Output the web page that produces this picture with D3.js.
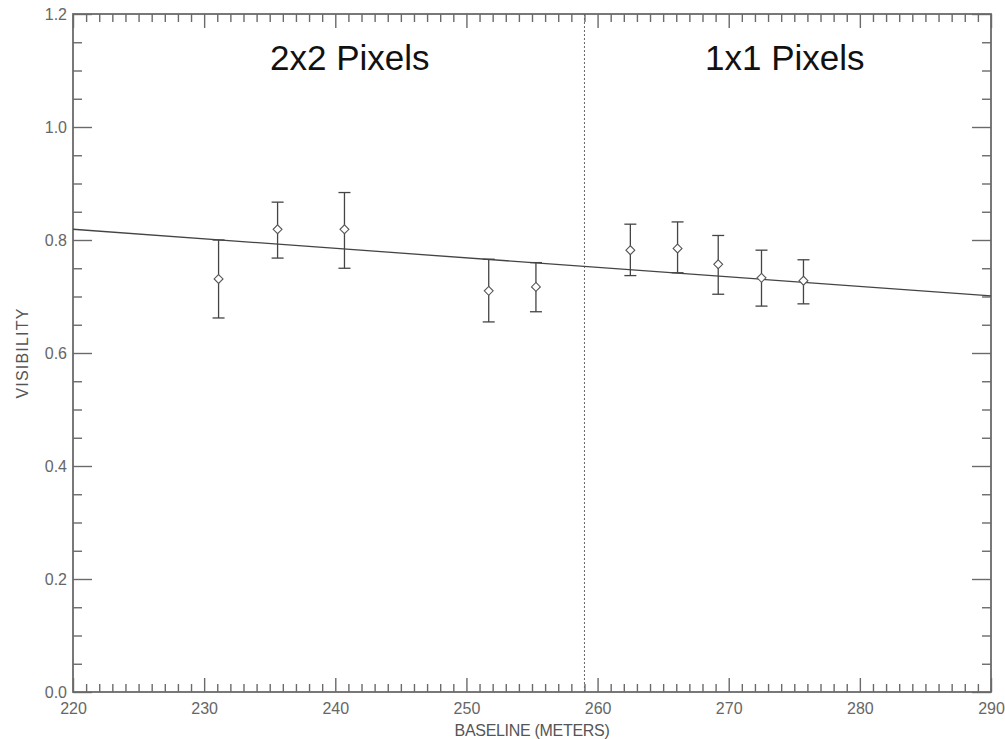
<!DOCTYPE html>
<html>
<head>
<meta charset="utf-8">
<script src="https://cdn.jsdelivr.net/npm/d3@7"></script>
<style>
  body { margin: 0; background: #fff; }
  svg { font-family: "Liberation Sans", Arial, sans-serif; }
  .axis text { fill: #666; font-size: 16px; }
  .axis line { stroke: #6a6a6a; stroke-width: 1.4; }
  .axis path { display: none; }
</style>
</head>
<body>
<svg id="chart" width="1005" height="739"></svg>
<script>
// measured values
const baseline = [231.1, 235.6, 240.7, 251.7, 255.3, 262.5, 266.1, 269.2, 272.5, 275.7];
const visibility = [0.731, 0.819, 0.819, 0.710, 0.717, 0.782, 0.785, 0.757, 0.733, 0.728];
const errLow = [0.662, 0.768, 0.750, 0.655, 0.673, 0.737, 0.742, 0.704, 0.683, 0.687];
const errHigh = [0.800, 0.867, 0.884, 0.766, 0.760, 0.828, 0.832, 0.808, 0.782, 0.765];

// fitted line end points
const fitX = [220, 290];
const fitY = [0.819, 0.701];

// split between pixel binnings
const splitX = 259;
const panelLabels = ['2x2 Pixels', '1x1 Pixels'];
const panelLabelX = [270, 705];

const xTicks = [220, 230, 240, 250, 260, 270, 280, 290];
const yTicks = [0.0, 0.2, 0.4, 0.6, 0.8, 1.0, 1.2];

const dim = {top: 14, right: 14, bottom: 47, left: 73};
dim.width = 1005 - dim.left - dim.right;
dim.height = 739 - dim.top - dim.bottom;

const svg = d3.select('#chart');
const graph = svg.append('g')
  .attr('transform', `translate(${dim.left}, ${dim.top})`);

const x = d3.scaleLinear().domain([220, 290]).range([0, dim.width]);
const y = d3.scaleLinear().domain([0, 1.2]).range([dim.height, 0]);

const xMinor = d3.range(220, 291, 1).filter(d => d % 10 !== 0);
const yMinor = d3.range(0, 1.201, 0.05).filter(d => Math.abs(d * 5 - Math.round(d * 5)) > 1e-6);

// axes: ticks point inward on all four sides
const addAxis = (axisFn, scale, transform, values, size, labels, pad) => {
  const a = axisFn(scale).tickValues(values).tickSize(-size).tickPadding(pad || 0);
  a.tickFormat(labels ? labels : '');
  graph.append('g').attr('class', 'axis').attr('transform', transform).call(a);
};

addAxis(d3.axisBottom, x, `translate(0, ${dim.height})`, xMinor, 8, null);
addAxis(d3.axisBottom, x, `translate(0, ${dim.height})`, xTicks, 14, d3.format('d'), 11);
addAxis(d3.axisTop, x, 'translate(0, 0)', xMinor, 8, null);
addAxis(d3.axisTop, x, 'translate(0, 0)', xTicks, 14, null);
addAxis(d3.axisLeft, y, 'translate(0, 0)', yMinor, 9, null);
addAxis(d3.axisLeft, y, 'translate(0, 0)', yTicks, 19, d3.format('.1f'), 6);
addAxis(d3.axisRight, y, `translate(${dim.width}, 0)`, yMinor, 9, null);
addAxis(d3.axisRight, y, `translate(${dim.width}, 0)`, yTicks, 19, null);

// frame
graph.append('rect')
  .attr('width', dim.width)
  .attr('height', dim.height)
  .attr('fill', 'none')
  .attr('stroke', '#6a6a6a')
  .attr('stroke-width', 1.8);

// axis titles
svg.append('text')
  .attr('x', dim.left + dim.width / 2)
  .attr('y', 736)
  .attr('text-anchor', 'middle')
  .attr('fill', '#555')
  .style('font-size', '16px')
  .style('letter-spacing', '-0.3px')
  .text('BASELINE (METERS)');

svg.append('text')
  .attr('transform', `translate(28, ${dim.top + dim.height / 2}) rotate(-90)`)
  .attr('text-anchor', 'middle')
  .attr('fill', '#555')
  .style('font-size', '16px')
  .style('letter-spacing', '1.2px')
  .text('VISIBILITY');

// dotted divider
graph.append('line')
  .attr('x1', x(splitX)).attr('x2', x(splitX))
  .attr('y1', 0).attr('y2', dim.height)
  .attr('stroke', '#666')
  .attr('stroke-width', 1)
  .attr('stroke-dasharray', '2,2');

// panel labels
svg.selectAll('.panel-label')
  .data(panelLabels)
  .enter().append('text')
  .attr('class', 'panel-label')
  .attr('x', (d, i) => panelLabelX[i])
  .attr('y', 70)
  .attr('fill', '#111')
  .style('font-size', '35px')
  .text(d => d);

// fit line
const line = d3.line()
  .x(d => x(d[0]))
  .y(d => y(d[1]));

graph.append('path')
  .datum(fitX.map((d, i) => [d, fitY[i]]))
  .attr('d', line)
  .attr('fill', 'none')
  .attr('stroke', '#444')
  .attr('stroke-width', 1.3);

// error bars
const points = baseline.map((d, i) => ({x: d, v: visibility[i], lo: errLow[i], hi: errHigh[i]}));
const capW = 6;

const bars = graph.append('g')
  .attr('stroke', '#444')
  .attr('stroke-width', 1.3)
  .attr('fill', 'none');

bars.selectAll('.stem')
  .data(points)
  .enter().append('line')
  .attr('x1', d => x(d.x)).attr('x2', d => x(d.x))
  .attr('y1', d => y(d.lo)).attr('y2', d => y(d.hi));

bars.selectAll('.cap-hi')
  .data(points)
  .enter().append('line')
  .attr('x1', d => x(d.x) - capW).attr('x2', d => x(d.x) + capW)
  .attr('y1', d => y(d.hi)).attr('y2', d => y(d.hi));

bars.selectAll('.cap-lo')
  .data(points)
  .enter().append('line')
  .attr('x1', d => x(d.x) - capW).attr('x2', d => x(d.x) + capW)
  .attr('y1', d => y(d.lo)).attr('y2', d => y(d.lo));

// diamond markers
const diamond = d3.symbol().type(d3.symbolDiamond2).size(50);
bars.selectAll('.marker')
  .data(points)
  .enter().append('path')
  .attr('d', diamond)
  .attr('transform', d => `translate(${x(d.x)}, ${y(d.v)})`)
  .attr('fill', 'white')
  .attr('stroke', '#555')
  .attr('stroke-width', 1.1);
</script>
</body>
</html>
